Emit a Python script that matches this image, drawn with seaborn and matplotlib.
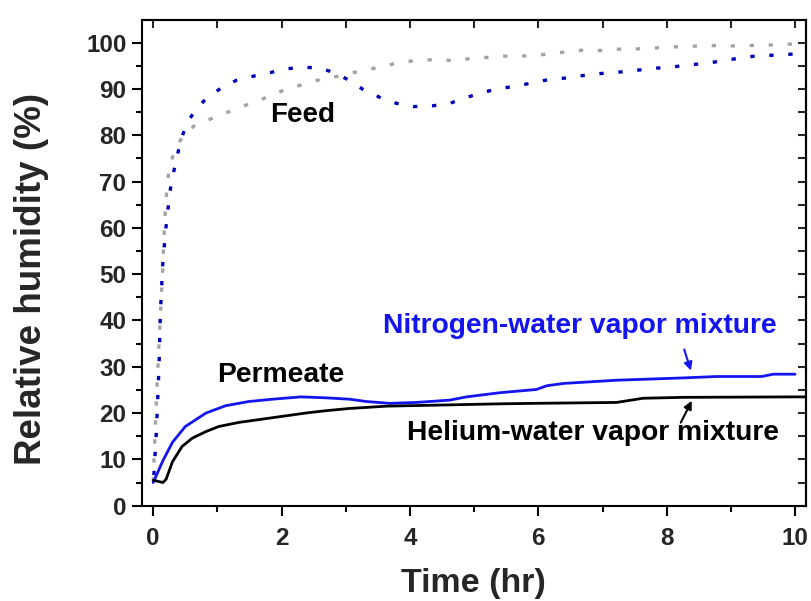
import matplotlib
matplotlib.use("Agg")
import matplotlib.pyplot as plt
from matplotlib.ticker import MultipleLocator
import seaborn as sns

# Feed side (dotted)
feed_he_t = [0.0, 0.04, 0.10, 0.15, 0.18, 0.21, 0.25, 0.34, 0.47, 0.65, 0.87, 1.07, 1.27, 1.48,
             1.73, 1.97, 2.21, 2.39, 2.64, 2.86, 3.07, 3.30, 3.53, 3.74, 4.00, 4.21, 4.47, 4.73,
             4.94, 5.18, 5.45, 5.72, 6.00, 6.23, 6.49, 6.70, 6.97, 7.21, 7.45, 7.73, 8.00, 8.26,
             8.53, 8.79, 9.03, 9.31, 9.53, 9.74, 9.93, 10.15]
feed_he_rh = [5.2, 20.0, 38.0, 52.0, 62.0, 68.0, 73.0, 77.0, 80.0, 82.2, 83.4, 84.5, 85.6, 86.7,
              88.0, 89.4, 90.5, 91.2, 92.2, 92.7, 93.4, 94.1, 94.7, 95.4, 96.0, 96.3, 96.3, 96.1,
              96.6, 96.8, 97.1, 97.1, 97.3, 97.7, 98.1, 98.4, 98.3, 98.6, 98.6, 98.8, 99.0, 99.2,
              99.3, 99.4, 99.3, 99.4, 99.5, 99.5, 99.7, 99.9]

feed_n2_t = [0.01, 0.05, 0.09, 0.11, 0.15, 0.20, 0.26, 0.31, 0.43, 0.52, 0.66, 0.84, 1.09, 1.30,
             1.57, 1.84, 2.10, 2.36, 2.61, 2.84, 3.05, 3.27, 3.53, 3.79, 4.06, 4.31, 4.60, 4.84,
             5.12, 5.38, 5.66, 5.92, 6.19, 6.46, 6.74, 7.02, 7.30, 7.57, 7.83, 8.07, 8.32, 8.59,
             8.83, 9.10, 9.37, 9.65, 9.92, 10.0]
feed_n2_rh = [6.6, 16.3, 30.0, 41.2, 52.7, 60.3, 67.8, 71.6, 79.0, 82.4, 85.6, 88.1, 90.5, 91.9,
              92.8, 93.6, 94.4, 94.7, 94.5, 93.4, 91.9, 89.9, 88.2, 86.9, 86.2, 86.3, 86.8, 88.0,
              89.2, 90.1, 90.6, 91.4, 92.1, 92.4, 93.0, 93.4, 93.7, 94.1, 94.5, 94.7, 95.2, 95.5,
              96.0, 96.6, 97.1, 97.3, 97.5, 97.6]

# Permeate side (solid)
perm_n2_t = [0.0, 0.15, 0.30, 0.50, 0.82, 1.13, 1.49, 1.86, 2.30, 2.68, 3.06, 3.32, 3.69, 4.10,
             4.62, 4.88, 5.40, 5.97, 6.13, 6.39, 7.22, 8.26, 8.78, 9.48, 9.66, 10.0]
perm_n2_rh = [5.0, 9.7, 13.7, 17.1, 20.0, 21.6, 22.5, 23.0, 23.5, 23.3, 23.0, 22.5, 22.1, 22.3,
              22.8, 23.5, 24.4, 25.1, 25.9, 26.4, 27.1, 27.6, 27.9, 27.9, 28.4, 28.4]

perm_he_t = [0.0, 0.15, 0.20, 0.30, 0.45, 0.61, 0.82, 1.02, 1.34, 1.60, 1.96, 2.37, 2.68, 3.06,
             3.64, 4.36, 5.40, 5.92, 7.22, 7.63, 8.26, 10.0, 10.15]
perm_he_rh = [5.5, 5.0, 5.7, 9.5, 12.8, 14.6, 16.0, 17.1, 18.0, 18.5, 19.2, 20.0, 20.5, 21.0,
              21.5, 21.7, 22.0, 22.1, 22.3, 23.2, 23.4, 23.5, 23.5]

BLUE_DOT = "#0000b8"
BLUE = "#1414ee"
GRAY = "#a3a3a3"

sns.set_theme(style="ticks")
plt.rcParams["font.family"] = ["Liberation Sans", "DejaVu Sans"]
plt.rcParams["font.weight"] = "bold"

fig, ax = plt.subplots(figsize=(8.11, 6.01), dpi=100)
fig.subplots_adjust(left=0.1747, right=0.9938, bottom=0.1586, top=0.9667)

dot = (0, (1.3, 4.4))
sns.lineplot(x=feed_he_t, y=feed_he_rh, ax=ax, color=GRAY, lw=2.4, linestyle=dot,
             estimator=None, sort=False)
sns.lineplot(x=feed_n2_t, y=feed_n2_rh, ax=ax, color=BLUE_DOT, lw=2.4, linestyle=dot,
             estimator=None, sort=False)
sns.lineplot(x=perm_n2_t, y=perm_n2_rh, ax=ax, color=BLUE, lw=2.0,
             estimator=None, sort=False)
sns.lineplot(x=perm_he_t, y=perm_he_rh, ax=ax, color="black", lw=2.0,
             estimator=None, sort=False)

ax.set_xlim(-0.18, 10.17)
ax.set_ylim(0, 104.9)
ax.xaxis.set_major_locator(MultipleLocator(2))
ax.xaxis.set_minor_locator(MultipleLocator(1))
ax.yaxis.set_major_locator(MultipleLocator(10))
ax.yaxis.set_minor_locator(MultipleLocator(5))

for sp in ax.spines.values():
    sp.set_visible(True)
    sp.set_linewidth(1.5)
    sp.set_color("black")

ax.tick_params(which="major", direction="out", length=7, width=1.5, labelsize=17.5, color="black")
ax.tick_params(which="minor", direction="out", length=4, width=1.5, color="black")
ax.tick_params(axis="x", which="major", pad=8)
ax.tick_params(axis="y", which="major", pad=4)
for lab in ax.get_xticklabels() + ax.get_yticklabels():
    lab.set_fontweight("bold")

# inward ticks on the top and right edges
top = ax.secondary_xaxis("top")
top.xaxis.set_major_locator(MultipleLocator(1))
top.tick_params(direction="in", length=6, width=1.5, labeltop=False)
right = ax.secondary_yaxis("right")
right.yaxis.set_major_locator(MultipleLocator(5))
right.tick_params(direction="in", length=6, width=1.5, labelright=False)
for sec in (top, right):
    for sp in sec.spines.values():
        sp.set_linewidth(1.5)

ax.set_xlabel("Time (hr)", fontsize=24.5, fontweight="bold")
ax.set_ylabel("Relative humidity (%)", fontsize=26.5, fontweight="bold")
ax.xaxis.set_label_coords(0.5, -0.128)
ax.yaxis.set_label_coords(-0.139, 0.467)

ax.text(1.82, 82.9, "Feed", fontsize=20, fontweight="bold", color="black")
ax.text(0.99, 26.8, "Permeate", fontsize=20.3, fontweight="bold", color="black")
ax.text(3.58, 37.3, "Nitrogen-water vapor mixture", fontsize=20.3, fontweight="bold", color=BLUE)
ax.text(3.95, 14.2, "Helium-water vapor mixture", fontsize=20.3, fontweight="bold", color="black")

ax.annotate("", xy=(8.39, 28.6), xytext=(8.26, 34.3),
            arrowprops=dict(arrowstyle="-|>", color=BLUE, lw=1.5, mutation_scale=12))
ax.annotate("", xy=(8.41, 23.2), xytext=(8.20, 17.4),
            arrowprops=dict(arrowstyle="-|>", color="black", lw=1.5, mutation_scale=12))

plt.savefig("out.png", dpi=100)
